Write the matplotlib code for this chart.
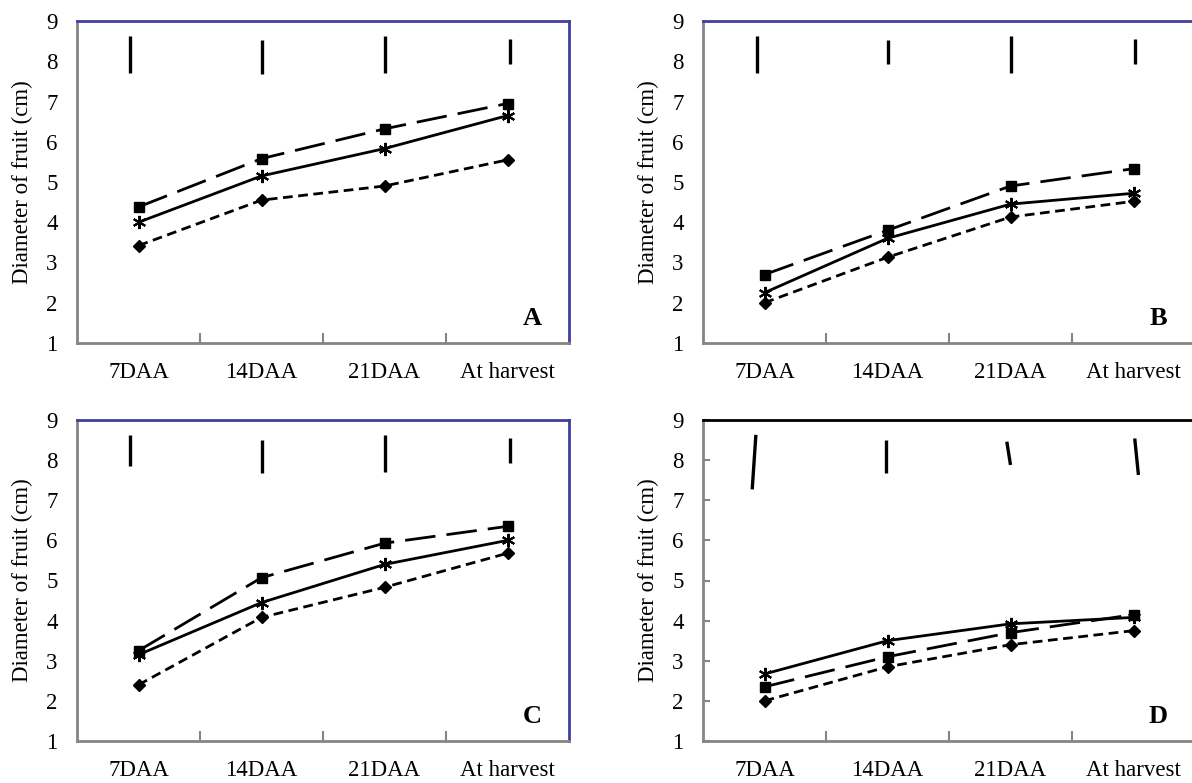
import matplotlib
matplotlib.use('Agg')
import matplotlib.pyplot as plt

plt.rcParams['font.family'] = ['Liberation Serif', 'DejaVu Serif']

categories = ['7DAA', '14DAA', '21DAA', 'At harvest']

# square (long dash), asterisk (solid), diamond (short dash)
A_square = [4.38, 5.58, 6.32, 6.95]
A_star = [4.0, 5.15, 5.83, 6.65]
A_diamond = [3.42, 4.55, 4.9, 5.55]

B_square = [2.7, 3.8, 4.9, 5.33]
B_star = [2.25, 3.6, 4.45, 4.72]
B_diamond = [2.0, 3.13, 4.13, 4.52]

C_square = [3.25, 5.07, 5.93, 6.35]
C_star = [3.15, 4.45, 5.4, 6.0]
C_diamond = [2.4, 4.08, 4.83, 5.68]

D_square = [2.35, 3.1, 3.7, 4.15]
D_star = [2.67, 3.5, 3.92, 4.08]
D_diamond = [2.0, 2.85, 3.4, 3.75]

# LSD bars (bottom / top)
A_lsd_low = [7.71, 7.68, 7.71, 7.93]
A_lsd_high = [8.63, 8.52, 8.63, 8.55]
B_lsd_low = [7.71, 7.93, 7.71, 7.93]
B_lsd_high = [8.63, 8.52, 8.63, 8.55]
C_lsd_low = [7.85, 7.67, 7.71, 7.92]
C_lsd_high = [8.63, 8.5, 8.63, 8.55]
D_lsd_low = [7.27, 7.67, 7.88, 7.63]
D_lsd_high = [8.63, 8.5, 8.46, 8.54]

GRAY = '#858585'
BLUE = '#3f3fa0'
FS = 16.5

W, H = 1192, 783
fig = plt.figure(figsize=(W / 100, H / 100), dpi=100)


def panel(rect_px, letter, square, star, diamond, lo, hi, top_color, dx_top, dx_bot, yticks_in=False):
    l, r, t, b = rect_px
    ax = fig.add_axes([l / W, 1 - b / H, (r - l) / W, (b - t) / H])
    x = list(range(len(categories)))

    ax.plot(x, square, color='black', lw=2.0, dashes=(11, 4), marker='s', ms=7, zorder=3)
    ax.plot(x, star, color='black', lw=2.0, marker=(6, 2, 0), ms=9.5, mew=1.5, zorder=4)
    ax.plot(x, diamond, color='black', lw=2.0, dashes=(3.5, 2), marker='D', ms=6, zorder=3)

    for i in x:
        ax.plot([i + dx_bot[i], i + dx_top[i]], [lo[i], hi[i]], color='black', lw=2.4,
                solid_capstyle='butt')

    ax.set_xlim(-0.5, len(categories) - 0.5)
    ax.set_ylim(1, 9)
    ax.set_yticks(range(1, 10))
    ax.set_xticks(x)
    ax.set_xticklabels(categories)
    ax.tick_params(axis='x', which='major', length=0, pad=14, labelsize=FS)
    ax.set_xticks([0.5, 1.5, 2.5], minor=True)
    ax.tick_params(axis='x', which='minor', direction='in', length=7, width=1.5, color=GRAY)
    if yticks_in:
        ax.tick_params(axis='y', direction='in', length=5, width=1.5, color=GRAY, pad=14, labelsize=FS)
    else:
        ax.tick_params(axis='y', length=0, pad=14, labelsize=FS)

    ax.set_ylabel('Diameter of fruit (cm)', fontsize=FS)
    ax.yaxis.set_label_coords(-0.09, 0.5)

    for side in ['left', 'bottom']:
        ax.spines[side].set_color(GRAY)
        ax.spines[side].set_linewidth(2)
    for side in ['top', 'right']:
        ax.spines[side].set_color(top_color)
        ax.spines[side].set_linewidth(2)

    ax.text(0.925, 0.075, letter, transform=ax.transAxes, fontsize=19, fontweight='bold',
            ha='center', va='center')
    return ax


panel((77, 569, 21, 343), 'A', A_square, A_star, A_diamond, A_lsd_low, A_lsd_high, BLUE,
      [-0.07, 0, 0, 0.02], [-0.07, 0, 0, 0.02])
panel((703, 1195, 21, 343), 'B', B_square, B_star, B_diamond, B_lsd_low, B_lsd_high, BLUE,
      [-0.065, 0, 0, 0.015], [-0.065, 0, 0, 0.015])
panel((77, 569, 420, 741), 'C', C_square, C_star, C_diamond, C_lsd_low, C_lsd_high, BLUE,
      [-0.07, 0, 0, 0.02], [-0.07, 0, 0, 0.02])
panel((703, 1195, 420, 741), 'D', D_square, D_star, D_diamond, D_lsd_low, D_lsd_high, 'black',
      [-0.07, -0.01, -0.03, 0.01], [-0.10, -0.01, 0.0, 0.04], yticks_in=True)

fig.savefig('out.png', dpi=100)
